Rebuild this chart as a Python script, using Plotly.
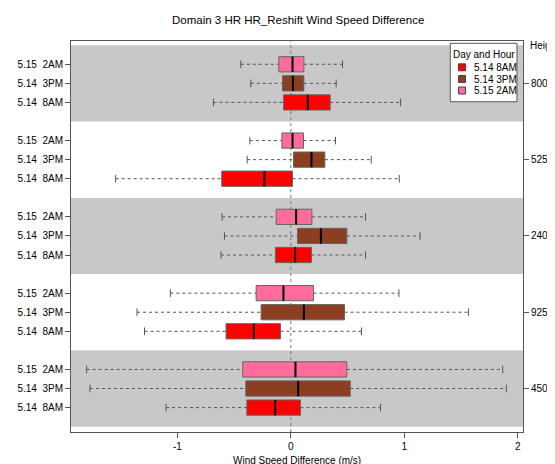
import plotly.graph_objects as go

# ---------------- data ----------------
heights = ["450m", "925m", "2400m", "5250m", "8000m"]
series_names = ["5.14 8AM", "5.14 3PM", "5.15 2AM"]
series_days = ["5.14", "5.14", "5.15"]
series_hours = ["8AM", "3PM", "2AM"]
series_colors = ["#FF0000", "#8B3E20", "#FF6B9B"]

# per series, values ordered by heights
lo_8am = [-1.10, -1.29, -0.615, -1.544, -0.682]
q1_8am = [-0.388, -0.571, -0.136, -0.609, -0.064]
med_8am = [-0.138, -0.326, 0.038, -0.233, 0.150]
q3_8am = [0.085, -0.091, 0.182, 0.015, 0.347]
hi_8am = [0.791, 0.623, 0.659, 0.956, 0.968]

lo_3pm = [-1.771, -1.356, -0.585, -0.385, -0.353]
q1_3pm = [-0.397, -0.262, 0.059, 0.024, -0.073]
med_3pm = [0.065, 0.115, 0.265, 0.182, 0.018]
q3_3pm = [0.524, 0.473, 0.494, 0.300, 0.115]
hi_3pm = [1.90, 1.567, 1.139, 0.709, 0.400]

lo_2am = [-1.80, -1.062, -0.606, -0.361, -0.441]
q1_2am = [-0.424, -0.306, -0.129, -0.079, -0.106]
med_2am = [0.041, -0.065, 0.047, 0.015, 0.015]
q3_2am = [0.494, 0.200, 0.186, 0.112, 0.115]
hi_2am = [1.868, 0.953, 0.659, 0.394, 0.456]

stats = [
    (lo_8am, q1_8am, med_8am, q3_8am, hi_8am),
    (lo_3pm, q1_3pm, med_3pm, q3_3pm, hi_3pm),
    (lo_2am, q1_2am, med_2am, q3_2am, hi_2am),
]

x_ticks = [-1, 0, 1, 2]

# ---------------- layout geometry ----------------
OFF = 8                      # page body margin around the figure
W, H = 555 - OFF, 464 - OFF  # figure size so it fills the window
# plot area in window pixels
PX0, PX1, PY0, PY1 = 71, 522.7, 41, 431.7
L, R = PX0 - OFF, W - (PX1 - OFF)
T, B = PY0 - OFF, H - (PY1 - OFF)
XR = [-1.938, 2.047]
YR = [-0.28, 20.22]
BOXW = 0.8
STAPLE = 0.4
FONT = "Liberation Sans, Arial, Helvetica, sans-serif"


def pos(gi, si):
    return 4 * gi + 1 + si


def px2x(px):
    return (px - PX0) / (PX1 - PX0)


def py2y(py):
    return (PY1 - py) / (PY1 - PY0)


fig = go.Figure()

# background bands per height group
for gi in range(len(heights)):
    fig.add_shape(type="rect", xref="paper", yref="y", x0=0, x1=1,
                  y0=4 * gi, y1=4 * gi + 4, layer="below", line_width=0,
                  fillcolor="#C8C8C8" if gi % 2 == 0 else "#FFFFFF")

# zero reference line
fig.add_shape(type="line", xref="x", yref="paper", x0=0, x1=0, y0=0, y1=1,
              layer="below", line=dict(color="#777777", width=1, dash="3px,3px"))

for si, name in enumerate(series_names):
    lo, q1, med, q3, hi = stats[si]
    col = series_colors[si]
    wx, wy, sx, sy, bx, by, mx, my = [], [], [], [], [], [], [], []
    for gi in range(len(heights)):
        p = pos(gi, si)
        wx += [lo[gi], q1[gi], None, q3[gi], hi[gi], None]
        wy += [p, p, None, p, p, None]
        for v in (lo[gi], hi[gi]):
            sx += [v, v, None]
            sy += [p - STAPLE / 2, p + STAPLE / 2, None]
        h = BOXW / 2
        bx += [q1[gi], q3[gi], q3[gi], q1[gi], q1[gi], None]
        by += [p - h, p - h, p + h, p + h, p - h, None]
        mx += [med[gi], med[gi], None]
        my += [p - h, p + h, None]
    fig.add_trace(go.Scatter(x=wx, y=wy, mode="lines", showlegend=False, hoverinfo="skip",
                             line=dict(color="#555555", width=1, dash="3px,3px")))
    fig.add_trace(go.Scatter(x=sx, y=sy, mode="lines", showlegend=False, hoverinfo="skip",
                             line=dict(color="#555555", width=1)))
    fig.add_trace(go.Scatter(x=bx, y=by, mode="lines", fill="toself", fillcolor=col,
                             showlegend=False, name=name,
                             line=dict(color="#666666", width=1)))
    fig.add_trace(go.Scatter(x=mx, y=my, mode="lines", showlegend=False, hoverinfo="skip",
                             line=dict(color="#000000", width=2)))

# tick labels
left_vals, left_text = [], []
for gi in range(len(heights)):
    for si in range(len(series_names)):
        left_vals.append(pos(gi, si))
        left_text.append(series_days[si] + "\u00a0\u00a0" + series_hours[si])
right_vals = [4 * gi + 2 for gi in range(len(heights))]

fig.add_trace(go.Scatter(x=[None], y=[None], yaxis="y2", showlegend=False, hoverinfo="skip"))

# manual legend (R-style)
lg_x0, lg_x1, lg_y0, lg_y1 = 450, 516.7, 43.3, 101.7
fig.add_shape(type="rect", xref="paper", yref="paper",
              x0=px2x(lg_x0), x1=px2x(lg_x1), y0=py2y(lg_y1), y1=py2y(lg_y0),
              fillcolor="white", line=dict(color="#555555", width=1), layer="above")
fig.add_annotation(xref="paper", yref="paper", x=px2x((lg_x0 + lg_x1) / 2), y=py2y(54),
                   text="Day and Hour", showarrow=False, xanchor="center", yanchor="middle",
                   font=dict(size=10, color="black", family=FONT))
item_y = [67.3, 79.0, 90.5]
for si, name in enumerate(series_names):
    cy = item_y[si]
    fig.add_shape(type="rect", xref="paper", yref="paper",
                  x0=px2x(458.3), x1=px2x(465.3), y0=py2y(cy + 3.5), y1=py2y(cy - 3.5),
                  fillcolor=series_colors[si], line=dict(color="#444444", width=1), layer="above")
    fig.add_annotation(xref="paper", yref="paper", x=px2x(471.5), y=py2y(cy),
                       text=name, showarrow=False, xanchor="left", yanchor="middle",
                       font=dict(size=10, color="black", family=FONT))

fig.add_annotation(xref="paper", yref="y", x=1, y=20, xshift=5, text="Height",
                   showarrow=False, xanchor="left", yanchor="middle",
                   font=dict(size=10, color="black", family=FONT))

# x-axis title as annotation
fig.add_annotation(xref="paper", yref="paper", x=px2x(297), y=py2y(460.5),
                   text="Wind Speed Difference (m/s)", showarrow=False,
                   xanchor="center", yanchor="middle",
                   font=dict(size=10, color="black", family=FONT))

fig.update_layout(
    width=W, height=H,
    margin=dict(l=L, r=R, t=T, b=B, pad=0, autoexpand=False),
    paper_bgcolor="white", plot_bgcolor="white",
    font=dict(family=FONT, size=10, color="black"),
    title=dict(text="Domain 3 HR HR_Reshift Wind Speed Difference",
               xref="paper", x=px2x(298), xanchor="center",
               yref="container", y=1 - (19.5 - OFF) / H, yanchor="middle",
               font=dict(size=11.5, color="black", family=FONT)),
    showlegend=False,
    xaxis=dict(range=XR, tickvals=x_ticks, ticktext=[str(v) for v in x_ticks], automargin=False,
               showgrid=False, zeroline=False, showline=True, mirror=True,
               linecolor="#555555", linewidth=1, ticks="outside", ticklen=5,
               tickcolor="#555555", tickfont=dict(size=10)),
    yaxis=dict(range=YR, tickvals=left_vals, ticktext=left_text, showgrid=False, automargin=False,
               zeroline=False, showline=True, mirror=True, linecolor="#555555", linewidth=1,
               ticks="outside", ticklen=5, tickcolor="#555555", tickfont=dict(size=10)),
    yaxis2=dict(range=YR, overlaying="y", side="right", tickvals=right_vals, ticktext=heights,
                showgrid=False, zeroline=False, showline=False, ticks="outside", ticklen=5,
                automargin=False, tickcolor="#555555", tickfont=dict(size=10)),
)

fig.write_html("out.html")
